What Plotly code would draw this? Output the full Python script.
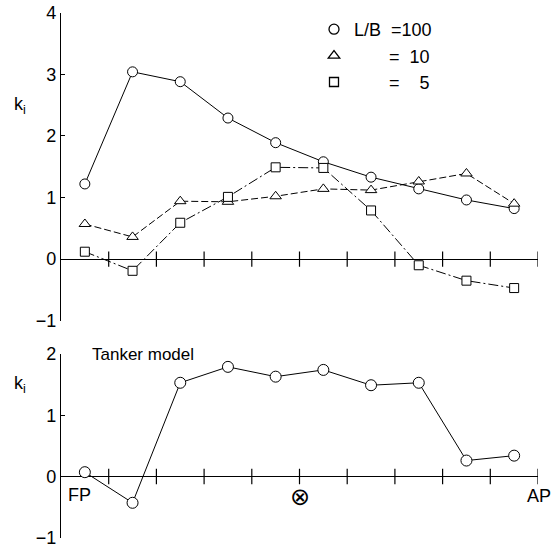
import plotly.graph_objects as go

# ---- data ----
stations = [0.5, 1.5, 2.5, 3.5, 4.5, 5.5, 6.5, 7.5, 8.5, 9.5]
k_lb100 = [1.22, 3.04, 2.88, 2.29, 1.89, 1.58, 1.33, 1.14, 0.96, 0.82]
k_lb10 = [0.57, 0.36, 0.94, 0.93, 1.02, 1.14, 1.12, 1.26, 1.39, 0.90]
k_lb5 = [0.12, -0.19, 0.59, 1.01, 1.49, 1.48, 0.79, -0.10, -0.35, -0.47]
k_tanker = [0.07, -0.43, 1.53, 1.79, 1.63, 1.74, 1.49, 1.53, 0.26, 0.34]
station_ticks = [1, 2, 3, 4, 5, 6, 7, 8, 9, 10]
legend_labels = ["L/B\u00a0\u00a0=100",
                 "\u00a0" * 7 + "=\u200710",
                 "\u00a0" * 7 + "=\u2007\u20075"]
yticks_top = [-1, 0, 1, 2, 3, 4]
yticks_bot = [-1, 0, 1, 2]

FONT = "Liberation Sans, Arial, sans-serif"
W, H = 552, 550

fig = go.Figure()

def series(x, y, symbol, size, dash, xa, ya):
    fig.add_trace(go.Scatter(
        x=x, y=y, mode="lines+markers", xaxis=xa, yaxis=ya, showlegend=False,
        line=dict(color="black", width=1, dash=dash),
        marker=dict(symbol=symbol, size=size, color="white",
                    line=dict(color="black", width=1)),
        hoverinfo="skip"))

series(stations, k_lb100, "circle", 10, "solid", "x", "y")
series(stations, k_lb10, "triangle-up", 10, "7px,3px", "x", "y")
series(stations, k_lb5, "square", 9, "10px,3px,2px,3px", "x", "y")
series(stations, k_tanker, "circle", 11, "solid", "x2", "y2")

# tick marks crossing the zero line
for xa, ya in (("x", "y"), ("x2", "y2")):
    fig.add_trace(go.Scatter(
        x=station_ticks, y=[0] * len(station_ticks), mode="markers",
        xaxis=xa, yaxis=ya, showlegend=False, hoverinfo="skip",
        marker=dict(symbol="line-ns", size=11,
                    line=dict(color="black", width=1.2))))

# legend-only entries (markers only)
for lab, sym, size in zip(legend_labels, ["circle", "triangle-up", "square"], [10, 10, 9]):
    fig.add_trace(go.Scatter(
        x=[None], y=[None], mode="markers", name=lab, xaxis="x", yaxis="y",
        marker=dict(symbol=sym, size=size, color="white",
                    line=dict(color="black", width=1.3))))

xdom = [61 / W, 538 / W]
common_x = dict(range=[0, 10], showline=False, showticklabels=False, ticks="",
                showgrid=False, zeroline=False, automargin=False, fixedrange=True)
common_y = dict(showline=True, linecolor="black", linewidth=1.3, ticks="inside",
                ticklen=4, tickwidth=1.2, tickcolor="black", showgrid=False,
                zeroline=True, zerolinecolor="black", zerolinewidth=1.3,
                tickfont=dict(family=FONT, size=18, color="black"),
                automargin=False, ticklabelstandoff=0)

fig.update_layout(
    width=W, height=H,
    margin=dict(l=0, r=0, t=0, b=0),
    paper_bgcolor="white", plot_bgcolor="white",
    xaxis=dict(domain=xdom, anchor="y", **common_x),
    yaxis=dict(domain=[1 - 320.7 / H, 1 - 12.7 / H], range=[-1, 4],
               tickvals=yticks_top, anchor="x", **common_y),
    xaxis2=dict(domain=xdom, anchor="y2", **common_x),
    yaxis2=dict(domain=[1 - 537.7 / H, 1 - 354 / H], range=[-1, 2],
                tickvals=yticks_bot, anchor="x2", **common_y),
    legend=dict(x=314 / W, y=1 - 11 / H, xanchor="left", yanchor="top",
                font=dict(family=FONT, size=18, color="black"),
                bgcolor="rgba(0,0,0,0)", tracegroupgap=0, itemwidth=30),
    showlegend=True,
    font=dict(family=FONT, color="black"),
)

ann = [
    dict(text="k<sub>i</sub>", xref="paper", yref="paper", x=12 / W, y=1 - 105 / H,
         xanchor="left", yanchor="middle", showarrow=False,
         font=dict(family=FONT, size=18)),
    dict(text="k<sub>i</sub>", xref="paper", yref="paper", x=12 / W, y=1 - 384 / H,
         xanchor="left", yanchor="middle", showarrow=False,
         font=dict(family=FONT, size=18)),
    dict(text="Tanker model", xref="x2", yref="y2", x=0.6, y=2,
         xanchor="left", yanchor="middle", showarrow=False,
         font=dict(family=FONT, size=17)),
    dict(text="FP", xref="x2", yref="y2", x=0.1, y=-0.31,
         xanchor="left", yanchor="middle", showarrow=False,
         font=dict(family=FONT, size=18)),
    dict(text="AP", xref="paper", yref="paper", x=539 / W, y=1 - 496 / H,
         xanchor="center", yanchor="middle", showarrow=False,
         font=dict(family=FONT, size=18)),
    dict(text="\u2297", xref="x2", yref="y2", x=5, y=-0.33,
         xanchor="center", yanchor="middle", showarrow=False,
         font=dict(family="DejaVu Sans", size=24)),
]
fig.update_layout(annotations=ann)

fig.write_html("out.html")
